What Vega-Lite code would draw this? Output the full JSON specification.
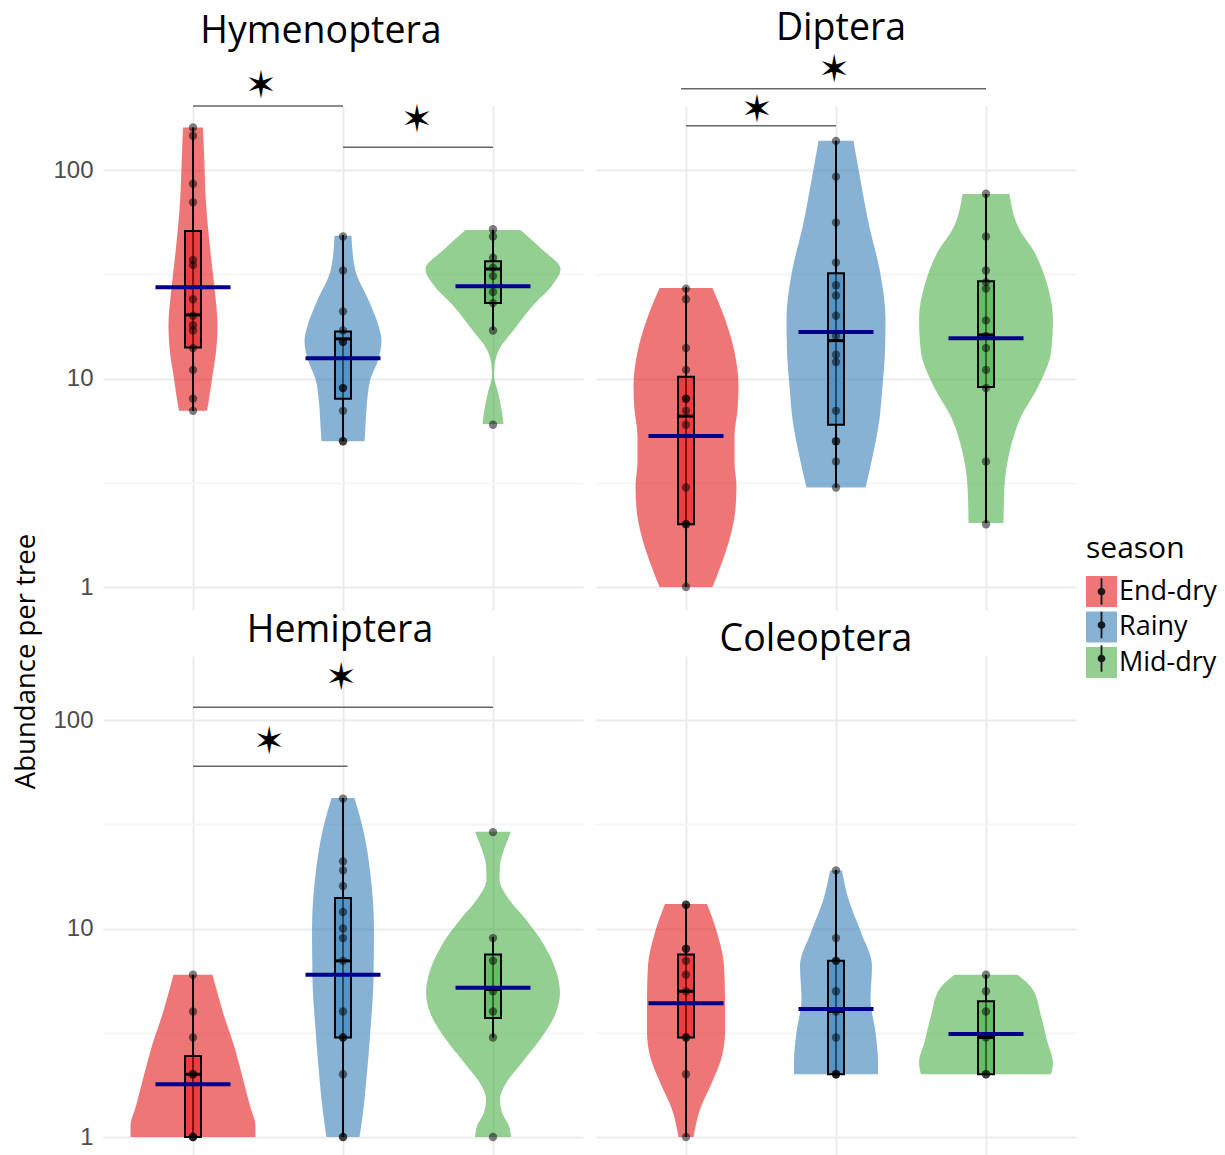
{
"$schema":"https://vega.github.io/schema/vega-lite/v6.json",
"background":"white",
"padding":{"left":12,"top":9,"right":5,"bottom":0},
"config":{"view":{"stroke":null},"font":"Open Sans","title":{"font":"Open Sans","fontSize":37.5,"fontWeight":"normal","color":"black","anchor":"middle","frame":"group"}},
"datasets":{
"violin":[
{"panel":"Hymenoptera","season":"End-dry","v":160,"w":0.133},{"panel":"Hymenoptera","season":"End-dry","v":121.6,"w":0.147},{"panel":"Hymenoptera","season":"End-dry","v":70,"w":0.173},{"panel":"Hymenoptera","season":"End-dry","v":40.3,"w":0.233},{"panel":"Hymenoptera","season":"End-dry","v":25.9,"w":0.293},{"panel":"Hymenoptera","season":"End-dry","v":17.9,"w":0.327},{"panel":"Hymenoptera","season":"End-dry","v":13.4,"w":0.307},{"panel":"Hymenoptera","season":"End-dry","v":9.95,"w":0.253},{"panel":"Hymenoptera","season":"End-dry","v":7.69,"w":0.207},{"panel":"Hymenoptera","season":"End-dry","v":7,"w":0.187},
{"panel":"Hymenoptera","season":"Rainy","v":48.4,"w":0.113},{"panel":"Hymenoptera","season":"Rainy","v":33.5,"w":0.16},{"panel":"Hymenoptera","season":"Rainy","v":23.2,"w":0.353},{"panel":"Hymenoptera","season":"Rainy","v":17.9,"w":0.473},{"panel":"Hymenoptera","season":"Rainy","v":15.2,"w":0.513},{"panel":"Hymenoptera","season":"Rainy","v":12.4,"w":0.473},{"panel":"Hymenoptera","season":"Rainy","v":9.95,"w":0.367},{"panel":"Hymenoptera","season":"Rainy","v":7.69,"w":0.32},{"panel":"Hymenoptera","season":"Rainy","v":5.94,"w":0.3},{"panel":"Hymenoptera","season":"Rainy","v":5,"w":0.287},
{"panel":"Hymenoptera","season":"Mid-dry","v":51.5,"w":0.367},{"panel":"Hymenoptera","season":"Mid-dry","v":41.8,"w":0.647},{"panel":"Hymenoptera","season":"Mid-dry","v":33.5,"w":0.9},{"panel":"Hymenoptera","season":"Mid-dry","v":27.9,"w":0.787},{"panel":"Hymenoptera","season":"Mid-dry","v":22.4,"w":0.533},{"panel":"Hymenoptera","season":"Mid-dry","v":17.3,"w":0.287},{"panel":"Hymenoptera","season":"Mid-dry","v":13.9,"w":0.087},{"panel":"Hymenoptera","season":"Mid-dry","v":11.5,"w":0.02},{"panel":"Hymenoptera","season":"Mid-dry","v":10.3,"w":0.013},{"panel":"Hymenoptera","season":"Mid-dry","v":8.6,"w":0.067},{"panel":"Hymenoptera","season":"Mid-dry","v":6.9,"w":0.12},{"panel":"Hymenoptera","season":"Mid-dry","v":6.05,"w":0.14},
{"panel":"Diptera","season":"End-dry","v":27.2,"w":0.353},{"panel":"Diptera","season":"End-dry","v":19.3,"w":0.52},{"panel":"Diptera","season":"End-dry","v":13.4,"w":0.647},{"panel":"Diptera","season":"End-dry","v":9.2,"w":0.7},{"panel":"Diptera","season":"End-dry","v":7.1,"w":0.687},{"panel":"Diptera","season":"End-dry","v":5.3,"w":0.647},{"panel":"Diptera","season":"End-dry","v":3.96,"w":0.647},{"panel":"Diptera","season":"End-dry","v":3.06,"w":0.673},{"panel":"Diptera","season":"End-dry","v":2.37,"w":0.66},{"panel":"Diptera","season":"End-dry","v":1.76,"w":0.593},{"panel":"Diptera","season":"End-dry","v":1.31,"w":0.48},{"panel":"Diptera","season":"End-dry","v":1,"w":0.353},
{"panel":"Diptera","season":"Rainy","v":138,"w":0.233},{"panel":"Diptera","season":"Rainy","v":101,"w":0.3},{"panel":"Diptera","season":"Rainy","v":53,"w":0.447},{"panel":"Diptera","season":"Rainy","v":33.5,"w":0.58},{"panel":"Diptera","season":"Rainy","v":19.3,"w":0.66},{"panel":"Diptera","season":"Rainy","v":13.4,"w":0.653},{"panel":"Diptera","season":"Rainy","v":9.2,"w":0.62},{"panel":"Diptera","season":"Rainy","v":6.4,"w":0.58},{"panel":"Diptera","season":"Rainy","v":4.43,"w":0.5},{"panel":"Diptera","season":"Rainy","v":3,"w":0.393},
{"panel":"Diptera","season":"Mid-dry","v":76.7,"w":0.313},{"panel":"Diptera","season":"Mid-dry","v":53,"w":0.433},{"panel":"Diptera","season":"Mid-dry","v":40.3,"w":0.647},{"panel":"Diptera","season":"Mid-dry","v":27.9,"w":0.82},{"panel":"Diptera","season":"Mid-dry","v":19.3,"w":0.893},{"panel":"Diptera","season":"Mid-dry","v":13.4,"w":0.867},{"panel":"Diptera","season":"Mid-dry","v":9.2,"w":0.7},{"panel":"Diptera","season":"Mid-dry","v":6.4,"w":0.453},{"panel":"Diptera","season":"Mid-dry","v":4.43,"w":0.313},{"panel":"Diptera","season":"Mid-dry","v":3.06,"w":0.247},{"panel":"Diptera","season":"Mid-dry","v":2.03,"w":0.233},
{"panel":"Hemiptera","season":"End-dry","v":6,"w":0.26},{"panel":"Hemiptera","season":"End-dry","v":3.96,"w":0.4},{"panel":"Hemiptera","season":"End-dry","v":2.74,"w":0.547},{"panel":"Hemiptera","season":"End-dry","v":1.9,"w":0.667},{"panel":"Hemiptera","season":"End-dry","v":1.41,"w":0.76},{"panel":"Hemiptera","season":"End-dry","v":1.13,"w":0.833},{"panel":"Hemiptera","season":"End-dry","v":1,"w":0.833},
{"panel":"Hemiptera","season":"Rainy","v":42.3,"w":0.153},{"panel":"Hemiptera","season":"Rainy","v":30,"w":0.267},{"panel":"Hemiptera","season":"Rainy","v":17.3,"w":0.373},{"panel":"Hemiptera","season":"Rainy","v":9.95,"w":0.413},{"panel":"Hemiptera","season":"Rainy","v":5.73,"w":0.407},{"panel":"Hemiptera","season":"Rainy","v":3.3,"w":0.367},{"panel":"Hemiptera","season":"Rainy","v":1.9,"w":0.313},{"panel":"Hemiptera","season":"Rainy","v":1.31,"w":0.267},{"panel":"Hemiptera","season":"Rainy","v":1,"w":0.22},
{"panel":"Hemiptera","season":"Mid-dry","v":29.1,"w":0.24},{"panel":"Hemiptera","season":"Mid-dry","v":25,"w":0.167},{"panel":"Hemiptera","season":"Mid-dry","v":20,"w":0.093},{"panel":"Hemiptera","season":"Mid-dry","v":17.3,"w":0.087},{"panel":"Hemiptera","season":"Mid-dry","v":13.8,"w":0.213},{"panel":"Hemiptera","season":"Mid-dry","v":11.1,"w":0.433},{"panel":"Hemiptera","season":"Mid-dry","v":8.27,"w":0.687},{"panel":"Hemiptera","season":"Mid-dry","v":6.17,"w":0.847},{"panel":"Hemiptera","season":"Mid-dry","v":4.94,"w":0.893},{"panel":"Hemiptera","season":"Mid-dry","v":3.96,"w":0.84},{"panel":"Hemiptera","season":"Mid-dry","v":2.95,"w":0.633},{"panel":"Hemiptera","season":"Mid-dry","v":2.28,"w":0.387},{"panel":"Hemiptera","season":"Mid-dry","v":1.76,"w":0.153},{"panel":"Hemiptera","season":"Mid-dry","v":1.52,"w":0.093},{"panel":"Hemiptera","season":"Mid-dry","v":1.31,"w":0.12},{"panel":"Hemiptera","season":"Mid-dry","v":1.13,"w":0.213},{"panel":"Hemiptera","season":"Mid-dry","v":1,"w":0.24},
{"panel":"Coleoptera","season":"End-dry","v":13.1,"w":0.28},{"panel":"Coleoptera","season":"End-dry","v":9.6,"w":0.413},{"panel":"Coleoptera","season":"End-dry","v":6.63,"w":0.507},{"panel":"Coleoptera","season":"End-dry","v":4.59,"w":0.52},{"panel":"Coleoptera","season":"End-dry","v":3.18,"w":0.52},{"panel":"Coleoptera","season":"End-dry","v":2.45,"w":0.48},{"panel":"Coleoptera","season":"End-dry","v":1.83,"w":0.347},{"panel":"Coleoptera","season":"End-dry","v":1.36,"w":0.187},{"panel":"Coleoptera","season":"End-dry","v":1,"w":0.1},
{"panel":"Coleoptera","season":"Rainy","v":19,"w":0.08},{"panel":"Coleoptera","season":"Rainy","v":13.8,"w":0.167},{"panel":"Coleoptera","season":"Rainy","v":9.6,"w":0.333},{"panel":"Coleoptera","season":"Rainy","v":6.63,"w":0.48},{"panel":"Coleoptera","season":"Rainy","v":4.59,"w":0.46},{"panel":"Coleoptera","season":"Rainy","v":3.18,"w":0.527},{"panel":"Coleoptera","season":"Rainy","v":2.28,"w":0.56},{"panel":"Coleoptera","season":"Rainy","v":2,"w":0.56},
{"panel":"Coleoptera","season":"Mid-dry","v":6,"w":0.42},{"panel":"Coleoptera","season":"Mid-dry","v":5.13,"w":0.62},{"panel":"Coleoptera","season":"Mid-dry","v":3.82,"w":0.733},{"panel":"Coleoptera","season":"Mid-dry","v":2.85,"w":0.82},{"panel":"Coleoptera","season":"Mid-dry","v":2.28,"w":0.893},{"panel":"Coleoptera","season":"Mid-dry","v":2,"w":0.867}
],
"stats":[
{"panel":"Hymenoptera","season":"End-dry","lo":7,"q1":14.1,"med":20.2,"q3":51,"hi":160,"mean":27.4},
{"panel":"Hymenoptera","season":"Rainy","lo":5,"q1":8,"med":15.5,"q3":16.8,"hi":48.8,"mean":12.5},
{"panel":"Hymenoptera","season":"Mid-dry","lo":17.1,"q1":23,"med":33.5,"q3":36.5,"hi":51.7,"mean":27.7},
{"panel":"Diptera","season":"End-dry","lo":1,"q1":2,"med":6.6,"q3":10.2,"hi":27.4,"mean":5.3},
{"panel":"Diptera","season":"Rainy","lo":3,"q1":6,"med":15.2,"q3":32,"hi":138,"mean":16.7},
{"panel":"Diptera","season":"Mid-dry","lo":2.03,"q1":9.1,"med":16.2,"q3":29.3,"hi":76.7,"mean":15.6},
{"panel":"Hemiptera","season":"End-dry","lo":1,"q1":1,"med":2,"q3":2.45,"hi":6,"mean":1.79},
{"panel":"Hemiptera","season":"Rainy","lo":1,"q1":3,"med":7,"q3":14,"hi":42.3,"mean":6},
{"panel":"Hemiptera","season":"Mid-dry","lo":3,"q1":3.72,"med":5.1,"q3":7.5,"hi":9.1,"mean":5.2},
{"panel":"Coleoptera","season":"End-dry","lo":1,"q1":3,"med":5,"q3":7.5,"hi":13.1,"mean":4.38},
{"panel":"Coleoptera","season":"Rainy","lo":2,"q1":2,"med":4,"q3":7,"hi":19.1,"mean":4.11},
{"panel":"Coleoptera","season":"Mid-dry","lo":2,"q1":2,"med":3,"q3":4.48,"hi":6,"mean":3.12}
],
"pts":[
{"panel":"Hymenoptera","season":"End-dry","v":160},{"panel":"Hymenoptera","season":"End-dry","v":146},{"panel":"Hymenoptera","season":"End-dry","v":86},{"panel":"Hymenoptera","season":"End-dry","v":70},{"panel":"Hymenoptera","season":"End-dry","v":37},{"panel":"Hymenoptera","season":"End-dry","v":35},{"panel":"Hymenoptera","season":"End-dry","v":24},{"panel":"Hymenoptera","season":"End-dry","v":20},{"panel":"Hymenoptera","season":"End-dry","v":18},{"panel":"Hymenoptera","season":"End-dry","v":17},{"panel":"Hymenoptera","season":"End-dry","v":14},{"panel":"Hymenoptera","season":"End-dry","v":11},{"panel":"Hymenoptera","season":"End-dry","v":8},{"panel":"Hymenoptera","season":"End-dry","v":7},
{"panel":"Hymenoptera","season":"Rainy","v":48},{"panel":"Hymenoptera","season":"Rainy","v":33},{"panel":"Hymenoptera","season":"Rainy","v":21},{"panel":"Hymenoptera","season":"Rainy","v":17},{"panel":"Hymenoptera","season":"Rainy","v":15},{"panel":"Hymenoptera","season":"Rainy","v":15},{"panel":"Hymenoptera","season":"Rainy","v":9},{"panel":"Hymenoptera","season":"Rainy","v":9},{"panel":"Hymenoptera","season":"Rainy","v":7},{"panel":"Hymenoptera","season":"Rainy","v":5},{"panel":"Hymenoptera","season":"Rainy","v":5},
{"panel":"Hymenoptera","season":"Mid-dry","v":52},{"panel":"Hymenoptera","season":"Mid-dry","v":48},{"panel":"Hymenoptera","season":"Mid-dry","v":38},{"panel":"Hymenoptera","season":"Mid-dry","v":34},{"panel":"Hymenoptera","season":"Mid-dry","v":31},{"panel":"Hymenoptera","season":"Mid-dry","v":26},{"panel":"Hymenoptera","season":"Mid-dry","v":23},{"panel":"Hymenoptera","season":"Mid-dry","v":17},{"panel":"Hymenoptera","season":"Mid-dry","v":6},
{"panel":"Diptera","season":"End-dry","v":27},{"panel":"Diptera","season":"End-dry","v":24},{"panel":"Diptera","season":"End-dry","v":14},{"panel":"Diptera","season":"End-dry","v":11},{"panel":"Diptera","season":"End-dry","v":8},{"panel":"Diptera","season":"End-dry","v":8},{"panel":"Diptera","season":"End-dry","v":7},{"panel":"Diptera","season":"End-dry","v":6},{"panel":"Diptera","season":"End-dry","v":3},{"panel":"Diptera","season":"End-dry","v":2},{"panel":"Diptera","season":"End-dry","v":2},{"panel":"Diptera","season":"End-dry","v":1},
{"panel":"Diptera","season":"Rainy","v":138},{"panel":"Diptera","season":"Rainy","v":93},{"panel":"Diptera","season":"Rainy","v":56},{"panel":"Diptera","season":"Rainy","v":36},{"panel":"Diptera","season":"Rainy","v":28},{"panel":"Diptera","season":"Rainy","v":25},{"panel":"Diptera","season":"Rainy","v":20},{"panel":"Diptera","season":"Rainy","v":16},{"panel":"Diptera","season":"Rainy","v":13},{"panel":"Diptera","season":"Rainy","v":12},{"panel":"Diptera","season":"Rainy","v":7},{"panel":"Diptera","season":"Rainy","v":5},{"panel":"Diptera","season":"Rainy","v":5},{"panel":"Diptera","season":"Rainy","v":4},{"panel":"Diptera","season":"Rainy","v":3},
{"panel":"Diptera","season":"Mid-dry","v":77},{"panel":"Diptera","season":"Mid-dry","v":48},{"panel":"Diptera","season":"Mid-dry","v":33},{"panel":"Diptera","season":"Mid-dry","v":29},{"panel":"Diptera","season":"Mid-dry","v":27},{"panel":"Diptera","season":"Mid-dry","v":19},{"panel":"Diptera","season":"Mid-dry","v":16},{"panel":"Diptera","season":"Mid-dry","v":14},{"panel":"Diptera","season":"Mid-dry","v":11},{"panel":"Diptera","season":"Mid-dry","v":9},{"panel":"Diptera","season":"Mid-dry","v":4},{"panel":"Diptera","season":"Mid-dry","v":2},
{"panel":"Hemiptera","season":"End-dry","v":6},{"panel":"Hemiptera","season":"End-dry","v":4},{"panel":"Hemiptera","season":"End-dry","v":3},{"panel":"Hemiptera","season":"End-dry","v":2},{"panel":"Hemiptera","season":"End-dry","v":2},{"panel":"Hemiptera","season":"End-dry","v":1},{"panel":"Hemiptera","season":"End-dry","v":1},{"panel":"Hemiptera","season":"End-dry","v":1},
{"panel":"Hemiptera","season":"Rainy","v":42},{"panel":"Hemiptera","season":"Rainy","v":21},{"panel":"Hemiptera","season":"Rainy","v":19},{"panel":"Hemiptera","season":"Rainy","v":16},{"panel":"Hemiptera","season":"Rainy","v":12},{"panel":"Hemiptera","season":"Rainy","v":10},{"panel":"Hemiptera","season":"Rainy","v":9},{"panel":"Hemiptera","season":"Rainy","v":7},{"panel":"Hemiptera","season":"Rainy","v":4},{"panel":"Hemiptera","season":"Rainy","v":3},{"panel":"Hemiptera","season":"Rainy","v":3},{"panel":"Hemiptera","season":"Rainy","v":2},{"panel":"Hemiptera","season":"Rainy","v":1},{"panel":"Hemiptera","season":"Rainy","v":1},
{"panel":"Hemiptera","season":"Mid-dry","v":29},{"panel":"Hemiptera","season":"Mid-dry","v":9},{"panel":"Hemiptera","season":"Mid-dry","v":7},{"panel":"Hemiptera","season":"Mid-dry","v":5},{"panel":"Hemiptera","season":"Mid-dry","v":4},{"panel":"Hemiptera","season":"Mid-dry","v":3},{"panel":"Hemiptera","season":"Mid-dry","v":1},
{"panel":"Coleoptera","season":"End-dry","v":13},{"panel":"Coleoptera","season":"End-dry","v":13},{"panel":"Coleoptera","season":"End-dry","v":8},{"panel":"Coleoptera","season":"End-dry","v":8},{"panel":"Coleoptera","season":"End-dry","v":7},{"panel":"Coleoptera","season":"End-dry","v":6},{"panel":"Coleoptera","season":"End-dry","v":5},{"panel":"Coleoptera","season":"End-dry","v":3},{"panel":"Coleoptera","season":"End-dry","v":3},{"panel":"Coleoptera","season":"End-dry","v":2},{"panel":"Coleoptera","season":"End-dry","v":1},
{"panel":"Coleoptera","season":"Rainy","v":19},{"panel":"Coleoptera","season":"Rainy","v":9},{"panel":"Coleoptera","season":"Rainy","v":7},{"panel":"Coleoptera","season":"Rainy","v":7},{"panel":"Coleoptera","season":"Rainy","v":5},{"panel":"Coleoptera","season":"Rainy","v":4},{"panel":"Coleoptera","season":"Rainy","v":3},{"panel":"Coleoptera","season":"Rainy","v":2},{"panel":"Coleoptera","season":"Rainy","v":2},{"panel":"Coleoptera","season":"Rainy","v":2},
{"panel":"Coleoptera","season":"Mid-dry","v":6},{"panel":"Coleoptera","season":"Mid-dry","v":5},{"panel":"Coleoptera","season":"Mid-dry","v":4},{"panel":"Coleoptera","season":"Mid-dry","v":3},{"panel":"Coleoptera","season":"Mid-dry","v":2},{"panel":"Coleoptera","season":"Mid-dry","v":2}
],
"brackets":[
{"panel":"Hymenoptera","x1":1,"x2":2,"v":203},{"panel":"Hymenoptera","x1":2,"x2":3,"v":128.5},
{"panel":"Diptera","x1":0.967,"x2":3,"v":245.5},{"panel":"Diptera","x1":1,"x2":2,"v":163},
{"panel":"Hemiptera","x1":1,"x2":3,"v":115},{"panel":"Hemiptera","x1":1,"x2":2.03,"v":60}
],
"stars":[
{"panel":"Hymenoptera","x":1.453,"v":250,"label":"✶"},{"panel":"Hymenoptera","x":2.493,"v":172,"label":"✶"},
{"panel":"Diptera","x":1.987,"v":298,"label":"✶"},{"panel":"Diptera","x":1.473,"v":192,"label":"✶"},
{"panel":"Hemiptera","x":1.987,"v":157,"label":"✶"},{"panel":"Hemiptera","x":1.507,"v":77.6,"label":"✶"}
]
},
"columns":2,
"spacing":{"row":46,"column":13},
"bounds":"flush",
"concat":[
{"width":480,"height":504,"title":{"text":"Hymenoptera","dx":-22,"offset":18},"resolve":{"scale":{"x":"independent"}},
"layer":[
{"data":{"name":"violin"},"transform":[{"filter":"datum.panel=='Hymenoptera' && datum.season=='End-dry'"}],"mark":{"type":"area","orient":"horizontal","opacity":0.6,"interpolate":"monotone"},
"encoding":{"y":{"field":"v","type":"quantitative","scale":{"type":"log","domain":[0.776,202.8],"nice":false},"axis":{"title":"Abundance per tree","titleFont":"Open Sans","titleFontSize":27.5,"titleFontWeight":"normal","titleColor":"black","titleX":-77,"titleY":555,"titleAngle":-90,"titleAlign":"center","titleBaseline":"middle","values":[1,3.1623,10,31.623,100],"labelExpr":"indexof([1,10,100], datum.value) >= 0 ? datum.label : ''","ticks":false,"domain":false,"labelFont":"Liberation Sans","labelFontSize":24,"labelColor":"#4D4D4D","labelPadding":10,"gridColor":{"condition":{"test":"indexof([1,10,100], datum.value) >= 0","value":"#EBEBEB"},"value":"#F5F5F5"},"gridWidth":2}},
"x":{"field":"w","type":"quantitative","stack":"center","scale":{"domain":[-0.4365,2.7635],"nice":false,"zero":false},"axis":null},
"fill":{"field":"season","type":"nominal","scale":{"domain":["End-dry","Rainy","Mid-dry"],"range":["#E41A1C","#377EB8","#4DAF4A"]},"legend":{"orient":"none","legendX":983,"legendY":428,"title":"season","titleFont":"Open Sans","titleFontSize":30,"titleFontWeight":"normal","titleColor":"black","titlePadding":12,"labelFont":"Open Sans","labelFontSize":27,"labelColor":"black","labelOffset":2,"symbolType":"square","symbolSize":961,"symbolOpacity":0.6,"symbolStrokeWidth":0,"rowPadding":4.5,"padding":0}}}},
{"data":{"name":"violin"},"transform":[{"filter":"datum.panel=='Hymenoptera' && datum.season=='Rainy'"}],"mark":{"type":"area","orient":"horizontal","opacity":0.6,"interpolate":"monotone"},
"encoding":{"y":{"field":"v","type":"quantitative","scale":{"type":"log","domain":[0.776,202.8],"nice":false}},"x":{"field":"w","type":"quantitative","stack":"center","scale":{"domain":[-1.3435,1.8565],"nice":false,"zero":false},"axis":null},"fill":{"field":"season","type":"nominal"}}},
{"data":{"name":"violin"},"transform":[{"filter":"datum.panel=='Hymenoptera' && datum.season=='Mid-dry'"}],"mark":{"type":"area","orient":"horizontal","opacity":0.6,"interpolate":"monotone"},
"encoding":{"y":{"field":"v","type":"quantitative","scale":{"type":"log","domain":[0.776,202.8],"nice":false}},"x":{"field":"w","type":"quantitative","stack":"center","scale":{"domain":[-2.15,1.05],"nice":false,"zero":false},"axis":null},"fill":{"field":"season","type":"nominal"}}},
{"data":{"name":"stats"},"transform":[{"filter":"datum.panel=='Hymenoptera'"}],"mark":{"type":"rule","color":"black","strokeWidth":2},
"encoding":{"x":{"field":"season","type":"nominal","scale":{"type":"point","padding":0.6,"domain":["End-dry","Rainy","Mid-dry"]},"axis":{"grid":true,"labels":false,"ticks":false,"domain":false,"title":null,"gridColor":"#EBEBEB","gridWidth":2}},"y":{"field":"lo","type":"quantitative","scale":{"type":"log","domain":[0.776,202.8],"nice":false}},"y2":{"field":"hi"}}},
{"data":{"name":"stats"},"transform":[{"filter":"datum.panel=='Hymenoptera'"}],"mark":{"type":"bar","width":16,"stroke":"black","strokeWidth":2,"fillOpacity":0.6},
"encoding":{"x":{"field":"season","type":"nominal","scale":{"type":"point","padding":0.6,"domain":["End-dry","Rainy","Mid-dry"]},"axis":null},"y":{"field":"q1","type":"quantitative","scale":{"type":"log","domain":[0.776,202.8],"nice":false}},"y2":{"field":"q3"},"fill":{"field":"season","type":"nominal"}}},
{"data":{"name":"stats"},"transform":[{"filter":"datum.panel=='Hymenoptera'"}],"mark":{"type":"tick","orient":"horizontal","color":"black","size":16,"thickness":3,"opacity":1},
"encoding":{"x":{"field":"season","type":"nominal","scale":{"type":"point","padding":0.6,"domain":["End-dry","Rainy","Mid-dry"]},"axis":null},"y":{"field":"med","type":"quantitative","scale":{"type":"log","domain":[0.776,202.8],"nice":false}}}},
{"data":{"name":"pts"},"transform":[{"filter":"datum.panel=='Hymenoptera'"}],"mark":{"type":"circle","color":"black","opacity":0.5,"size":70},
"encoding":{"x":{"field":"season","type":"nominal","scale":{"type":"point","padding":0.6,"domain":["End-dry","Rainy","Mid-dry"]},"axis":null},"y":{"field":"v","type":"quantitative","scale":{"type":"log","domain":[0.776,202.8],"nice":false}}}},
{"data":{"name":"stats"},"transform":[{"filter":"datum.panel=='Hymenoptera'"}],"mark":{"type":"tick","orient":"horizontal","color":"#00008B","size":75,"thickness":4,"opacity":1},
"encoding":{"x":{"field":"season","type":"nominal","scale":{"type":"point","padding":0.6,"domain":["End-dry","Rainy","Mid-dry"]},"axis":null},"y":{"field":"mean","type":"quantitative","scale":{"type":"log","domain":[0.776,202.8],"nice":false}}}},
{"data":{"name":"brackets"},"transform":[{"filter":"datum.panel=='Hymenoptera'"}],"mark":{"type":"rule","color":"#666666","strokeWidth":1.5},
"encoding":{"x":{"field":"x1","type":"quantitative","scale":{"domain":[0.4,3.6],"nice":false,"zero":false},"axis":null},"x2":{"field":"x2"},"y":{"field":"v","type":"quantitative","scale":{"type":"log","domain":[0.776,202.8],"nice":false}}}},
{"data":{"name":"stars"},"transform":[{"filter":"datum.panel=='Hymenoptera'"}],"mark":{"type":"text","font":"DejaVu Sans","fontSize":38,"baseline":"middle","align":"center","color":"black"},
"encoding":{"x":{"field":"x","type":"quantitative","scale":{"domain":[0.4,3.6],"nice":false,"zero":false},"axis":null},"y":{"field":"v","type":"quantitative","scale":{"type":"log","domain":[0.776,202.8],"nice":false}},"text":{"field":"label"}}},
{"data":{"name":"stats"},"transform":[{"filter":"datum.panel=='Hymenoptera'"}],"mark":{"type":"point","filled":true,"color":"#1A1A1A","opacity":0},
"encoding":{"x":{"field":"season","type":"nominal","scale":{"type":"point","padding":0.6,"domain":["End-dry","Rainy","Mid-dry"]},"axis":null},"y":{"field":"med","type":"quantitative","scale":{"type":"log","domain":[0.776,202.8],"nice":false}},
"shape":{"field":"season","type":"nominal","scale":{"range":["M-0.06,-0.85L0.06,-0.85L0.06,0.85L-0.06,0.85ZM-0.25,0A0.25,0.25,0,1,1,0.25,0A0.25,0.25,0,1,1,-0.25,0Z","M-0.06,-0.85L0.06,-0.85L0.06,0.85L-0.06,0.85ZM-0.25,0A0.25,0.25,0,1,1,0.25,0A0.25,0.25,0,1,1,-0.25,0Z","M-0.06,-0.85L0.06,-0.85L0.06,0.85L-0.06,0.85ZM-0.25,0A0.25,0.25,0,1,1,0.25,0A0.25,0.25,0,1,1,-0.25,0Z"]},
"legend":{"orient":"none","legendX":983,"legendY":428,"title":" ","titleFont":"Open Sans","titleFontSize":30,"titleFontWeight":"normal","titlePadding":12,"labelFont":"Open Sans","labelFontSize":27,"labelExpr":"''","labelOffset":2,"symbolSize":961,"symbolOpacity":1,"symbolFillColor":"#1A1A1A","symbolStrokeWidth":0,"rowPadding":4.5,"padding":0}}}}
]},
{"width":480,"height":504,"title":{"text":"Diptera","dx":5,"offset":5},"resolve":{"scale":{"x":"independent"}},
"layer":[
{"data":{"name":"violin"},"transform":[{"filter":"datum.panel=='Diptera' && datum.season=='End-dry'"}],"mark":{"type":"area","orient":"horizontal","opacity":0.6,"interpolate":"monotone"},
"encoding":{"y":{"field":"v","type":"quantitative","scale":{"type":"log","domain":[0.776,202.8],"nice":false},"axis":{"title":null,"values":[1,3.1623,10,31.623,100],"labels":false,"ticks":false,"domain":false,"gridColor":{"condition":{"test":"indexof([1,10,100], datum.value) >= 0","value":"#EBEBEB"},"value":"#F5F5F5"},"gridWidth":2}},
"x":{"field":"w","type":"quantitative","stack":"center","scale":{"domain":[-0.25,2.95],"nice":false,"zero":false},"axis":null},"fill":{"field":"season","type":"nominal"}}},
{"data":{"name":"violin"},"transform":[{"filter":"datum.panel=='Diptera' && datum.season=='Rainy'"}],"mark":{"type":"area","orient":"horizontal","opacity":0.6,"interpolate":"monotone"},
"encoding":{"y":{"field":"v","type":"quantitative","scale":{"type":"log","domain":[0.776,202.8],"nice":false}},"x":{"field":"w","type":"quantitative","stack":"center","scale":{"domain":[-1.27,1.93],"nice":false,"zero":false},"axis":null},"fill":{"field":"season","type":"nominal"}}},
{"data":{"name":"violin"},"transform":[{"filter":"datum.panel=='Diptera' && datum.season=='Mid-dry'"}],"mark":{"type":"area","orient":"horizontal","opacity":0.6,"interpolate":"monotone"},
"encoding":{"y":{"field":"v","type":"quantitative","scale":{"type":"log","domain":[0.776,202.8],"nice":false}},"x":{"field":"w","type":"quantitative","stack":"center","scale":{"domain":[-2.1535,1.0465],"nice":false,"zero":false},"axis":null},"fill":{"field":"season","type":"nominal"}}},
{"data":{"name":"stats"},"transform":[{"filter":"datum.panel=='Diptera'"}],"mark":{"type":"rule","color":"black","strokeWidth":2},
"encoding":{"x":{"field":"season","type":"nominal","scale":{"type":"point","padding":0.6,"domain":["End-dry","Rainy","Mid-dry"]},"axis":{"grid":true,"labels":false,"ticks":false,"domain":false,"title":null,"gridColor":"#EBEBEB","gridWidth":2}},"y":{"field":"lo","type":"quantitative","scale":{"type":"log","domain":[0.776,202.8],"nice":false}},"y2":{"field":"hi"}}},
{"data":{"name":"stats"},"transform":[{"filter":"datum.panel=='Diptera'"}],"mark":{"type":"bar","width":16,"stroke":"black","strokeWidth":2,"fillOpacity":0.6},
"encoding":{"x":{"field":"season","type":"nominal","scale":{"type":"point","padding":0.6,"domain":["End-dry","Rainy","Mid-dry"]},"axis":null},"y":{"field":"q1","type":"quantitative","scale":{"type":"log","domain":[0.776,202.8],"nice":false}},"y2":{"field":"q3"},"fill":{"field":"season","type":"nominal"}}},
{"data":{"name":"stats"},"transform":[{"filter":"datum.panel=='Diptera'"}],"mark":{"type":"tick","orient":"horizontal","color":"black","size":16,"thickness":3,"opacity":1},
"encoding":{"x":{"field":"season","type":"nominal","scale":{"type":"point","padding":0.6,"domain":["End-dry","Rainy","Mid-dry"]},"axis":null},"y":{"field":"med","type":"quantitative","scale":{"type":"log","domain":[0.776,202.8],"nice":false}}}},
{"data":{"name":"pts"},"transform":[{"filter":"datum.panel=='Diptera'"}],"mark":{"type":"circle","color":"black","opacity":0.5,"size":70},
"encoding":{"x":{"field":"season","type":"nominal","scale":{"type":"point","padding":0.6,"domain":["End-dry","Rainy","Mid-dry"]},"axis":null},"y":{"field":"v","type":"quantitative","scale":{"type":"log","domain":[0.776,202.8],"nice":false}}}},
{"data":{"name":"stats"},"transform":[{"filter":"datum.panel=='Diptera'"}],"mark":{"type":"tick","orient":"horizontal","color":"#00008B","size":75,"thickness":4,"opacity":1},
"encoding":{"x":{"field":"season","type":"nominal","scale":{"type":"point","padding":0.6,"domain":["End-dry","Rainy","Mid-dry"]},"axis":null},"y":{"field":"mean","type":"quantitative","scale":{"type":"log","domain":[0.776,202.8],"nice":false}}}},
{"data":{"name":"brackets"},"transform":[{"filter":"datum.panel=='Diptera'"}],"mark":{"type":"rule","color":"#666666","strokeWidth":1.5},
"encoding":{"x":{"field":"x1","type":"quantitative","scale":{"domain":[0.4,3.6],"nice":false,"zero":false},"axis":null},"x2":{"field":"x2"},"y":{"field":"v","type":"quantitative","scale":{"type":"log","domain":[0.776,202.8],"nice":false}}}},
{"data":{"name":"stars"},"transform":[{"filter":"datum.panel=='Diptera'"}],"mark":{"type":"text","font":"DejaVu Sans","fontSize":38,"baseline":"middle","align":"center","color":"black"},
"encoding":{"x":{"field":"x","type":"quantitative","scale":{"domain":[0.4,3.6],"nice":false,"zero":false},"axis":null},"y":{"field":"v","type":"quantitative","scale":{"type":"log","domain":[0.776,202.8],"nice":false}},"text":{"field":"label"}}}
]},
{"width":480,"height":504,"title":{"text":"Hemiptera","dx":-3,"offset":6.5},"resolve":{"scale":{"x":"independent"}},
"layer":[
{"data":{"name":"violin"},"transform":[{"filter":"datum.panel=='Hemiptera' && datum.season=='End-dry'"}],"mark":{"type":"area","orient":"horizontal","opacity":0.6,"interpolate":"monotone"},
"encoding":{"y":{"field":"v","type":"quantitative","scale":{"type":"log","domain":[0.776,202.8],"nice":false},"axis":{"title":null,"values":[1,3.1623,10,31.623,100],"labelExpr":"indexof([1,10,100], datum.value) >= 0 ? datum.label : ''","ticks":false,"domain":false,"labelFont":"Liberation Sans","labelFontSize":24,"labelColor":"#4D4D4D","labelPadding":10,"gridColor":{"condition":{"test":"indexof([1,10,100], datum.value) >= 0","value":"#EBEBEB"},"value":"#F5F5F5"},"gridWidth":2}},
"x":{"field":"w","type":"quantitative","stack":"center","scale":{"domain":[-0.1835,3.0165],"nice":false,"zero":false},"axis":null},"fill":{"field":"season","type":"nominal"}}},
{"data":{"name":"violin"},"transform":[{"filter":"datum.panel=='Hemiptera' && datum.season=='Rainy'"}],"mark":{"type":"area","orient":"horizontal","opacity":0.6,"interpolate":"monotone"},
"encoding":{"y":{"field":"v","type":"quantitative","scale":{"type":"log","domain":[0.776,202.8],"nice":false}},"x":{"field":"w","type":"quantitative","stack":"center","scale":{"domain":[-1.3935,1.8065],"nice":false,"zero":false},"axis":null},"fill":{"field":"season","type":"nominal"}}},
{"data":{"name":"violin"},"transform":[{"filter":"datum.panel=='Hemiptera' && datum.season=='Mid-dry'"}],"mark":{"type":"area","orient":"horizontal","opacity":0.6,"interpolate":"monotone"},
"encoding":{"y":{"field":"v","type":"quantitative","scale":{"type":"log","domain":[0.776,202.8],"nice":false}},"x":{"field":"w","type":"quantitative","stack":"center","scale":{"domain":[-2.1535,1.0465],"nice":false,"zero":false},"axis":null},"fill":{"field":"season","type":"nominal"}}},
{"data":{"name":"stats"},"transform":[{"filter":"datum.panel=='Hemiptera'"}],"mark":{"type":"rule","color":"black","strokeWidth":2},
"encoding":{"x":{"field":"season","type":"nominal","scale":{"type":"point","padding":0.6,"domain":["End-dry","Rainy","Mid-dry"]},"axis":{"grid":true,"labels":false,"ticks":false,"domain":false,"title":null,"gridColor":"#EBEBEB","gridWidth":2}},"y":{"field":"lo","type":"quantitative","scale":{"type":"log","domain":[0.776,202.8],"nice":false}},"y2":{"field":"hi"}}},
{"data":{"name":"stats"},"transform":[{"filter":"datum.panel=='Hemiptera'"}],"mark":{"type":"bar","width":16,"stroke":"black","strokeWidth":2,"fillOpacity":0.6},
"encoding":{"x":{"field":"season","type":"nominal","scale":{"type":"point","padding":0.6,"domain":["End-dry","Rainy","Mid-dry"]},"axis":null},"y":{"field":"q1","type":"quantitative","scale":{"type":"log","domain":[0.776,202.8],"nice":false}},"y2":{"field":"q3"},"fill":{"field":"season","type":"nominal"}}},
{"data":{"name":"stats"},"transform":[{"filter":"datum.panel=='Hemiptera'"}],"mark":{"type":"tick","orient":"horizontal","color":"black","size":16,"thickness":3,"opacity":1},
"encoding":{"x":{"field":"season","type":"nominal","scale":{"type":"point","padding":0.6,"domain":["End-dry","Rainy","Mid-dry"]},"axis":null},"y":{"field":"med","type":"quantitative","scale":{"type":"log","domain":[0.776,202.8],"nice":false}}}},
{"data":{"name":"pts"},"transform":[{"filter":"datum.panel=='Hemiptera'"}],"mark":{"type":"circle","color":"black","opacity":0.5,"size":70},
"encoding":{"x":{"field":"season","type":"nominal","scale":{"type":"point","padding":0.6,"domain":["End-dry","Rainy","Mid-dry"]},"axis":null},"y":{"field":"v","type":"quantitative","scale":{"type":"log","domain":[0.776,202.8],"nice":false}}}},
{"data":{"name":"stats"},"transform":[{"filter":"datum.panel=='Hemiptera'"}],"mark":{"type":"tick","orient":"horizontal","color":"#00008B","size":75,"thickness":4,"opacity":1},
"encoding":{"x":{"field":"season","type":"nominal","scale":{"type":"point","padding":0.6,"domain":["End-dry","Rainy","Mid-dry"]},"axis":null},"y":{"field":"mean","type":"quantitative","scale":{"type":"log","domain":[0.776,202.8],"nice":false}}}},
{"data":{"name":"brackets"},"transform":[{"filter":"datum.panel=='Hemiptera'"}],"mark":{"type":"rule","color":"#666666","strokeWidth":1.5},
"encoding":{"x":{"field":"x1","type":"quantitative","scale":{"domain":[0.4,3.6],"nice":false,"zero":false},"axis":null},"x2":{"field":"x2"},"y":{"field":"v","type":"quantitative","scale":{"type":"log","domain":[0.776,202.8],"nice":false}}}},
{"data":{"name":"stars"},"transform":[{"filter":"datum.panel=='Hemiptera'"}],"mark":{"type":"text","font":"DejaVu Sans","fontSize":38,"baseline":"middle","align":"center","color":"black"},
"encoding":{"x":{"field":"x","type":"quantitative","scale":{"domain":[0.4,3.6],"nice":false,"zero":false},"axis":null},"y":{"field":"v","type":"quantitative","scale":{"type":"log","domain":[0.776,202.8],"nice":false}},"text":{"field":"label"}}}
]},
{"width":480,"height":504,"title":{"text":"Coleoptera","dx":-20,"offset":-2.5},"resolve":{"scale":{"x":"independent"}},
"layer":[
{"data":{"name":"violin"},"transform":[{"filter":"datum.panel=='Coleoptera' && datum.season=='End-dry'"}],"mark":{"type":"area","orient":"horizontal","opacity":0.6,"interpolate":"monotone"},
"encoding":{"y":{"field":"v","type":"quantitative","scale":{"type":"log","domain":[0.776,202.8],"nice":false},"axis":{"title":null,"values":[1,3.1623,10,31.623,100],"labels":false,"ticks":false,"domain":false,"gridColor":{"condition":{"test":"indexof([1,10,100], datum.value) >= 0","value":"#EBEBEB"},"value":"#F5F5F5"},"gridWidth":2}},
"x":{"field":"w","type":"quantitative","stack":"center","scale":{"domain":[-0.34,2.86],"nice":false,"zero":false},"axis":null},"fill":{"field":"season","type":"nominal"}}},
{"data":{"name":"violin"},"transform":[{"filter":"datum.panel=='Coleoptera' && datum.season=='Rainy'"}],"mark":{"type":"area","orient":"horizontal","opacity":0.6,"interpolate":"monotone"},
"encoding":{"y":{"field":"v","type":"quantitative","scale":{"type":"log","domain":[0.776,202.8],"nice":false}},"x":{"field":"w","type":"quantitative","stack":"center","scale":{"domain":[-1.32,1.88],"nice":false,"zero":false},"axis":null},"fill":{"field":"season","type":"nominal"}}},
{"data":{"name":"violin"},"transform":[{"filter":"datum.panel=='Coleoptera' && datum.season=='Mid-dry'"}],"mark":{"type":"area","orient":"horizontal","opacity":0.6,"interpolate":"monotone"},
"encoding":{"y":{"field":"v","type":"quantitative","scale":{"type":"log","domain":[0.776,202.8],"nice":false}},"x":{"field":"w","type":"quantitative","stack":"center","scale":{"domain":[-2.1535,1.0465],"nice":false,"zero":false},"axis":null},"fill":{"field":"season","type":"nominal"}}},
{"data":{"name":"stats"},"transform":[{"filter":"datum.panel=='Coleoptera'"}],"mark":{"type":"rule","color":"black","strokeWidth":2},
"encoding":{"x":{"field":"season","type":"nominal","scale":{"type":"point","padding":0.6,"domain":["End-dry","Rainy","Mid-dry"]},"axis":{"grid":true,"labels":false,"ticks":false,"domain":false,"title":null,"gridColor":"#EBEBEB","gridWidth":2}},"y":{"field":"lo","type":"quantitative","scale":{"type":"log","domain":[0.776,202.8],"nice":false}},"y2":{"field":"hi"}}},
{"data":{"name":"stats"},"transform":[{"filter":"datum.panel=='Coleoptera'"}],"mark":{"type":"bar","width":16,"stroke":"black","strokeWidth":2,"fillOpacity":0.6},
"encoding":{"x":{"field":"season","type":"nominal","scale":{"type":"point","padding":0.6,"domain":["End-dry","Rainy","Mid-dry"]},"axis":null},"y":{"field":"q1","type":"quantitative","scale":{"type":"log","domain":[0.776,202.8],"nice":false}},"y2":{"field":"q3"},"fill":{"field":"season","type":"nominal"}}},
{"data":{"name":"stats"},"transform":[{"filter":"datum.panel=='Coleoptera'"}],"mark":{"type":"tick","orient":"horizontal","color":"black","size":16,"thickness":3,"opacity":1},
"encoding":{"x":{"field":"season","type":"nominal","scale":{"type":"point","padding":0.6,"domain":["End-dry","Rainy","Mid-dry"]},"axis":null},"y":{"field":"med","type":"quantitative","scale":{"type":"log","domain":[0.776,202.8],"nice":false}}}},
{"data":{"name":"pts"},"transform":[{"filter":"datum.panel=='Coleoptera'"}],"mark":{"type":"circle","color":"black","opacity":0.5,"size":70},
"encoding":{"x":{"field":"season","type":"nominal","scale":{"type":"point","padding":0.6,"domain":["End-dry","Rainy","Mid-dry"]},"axis":null},"y":{"field":"v","type":"quantitative","scale":{"type":"log","domain":[0.776,202.8],"nice":false}}}},
{"data":{"name":"stats"},"transform":[{"filter":"datum.panel=='Coleoptera'"}],"mark":{"type":"tick","orient":"horizontal","color":"#00008B","size":75,"thickness":4,"opacity":1},
"encoding":{"x":{"field":"season","type":"nominal","scale":{"type":"point","padding":0.6,"domain":["End-dry","Rainy","Mid-dry"]},"axis":null},"y":{"field":"mean","type":"quantitative","scale":{"type":"log","domain":[0.776,202.8],"nice":false}}}}
]}
]
}
